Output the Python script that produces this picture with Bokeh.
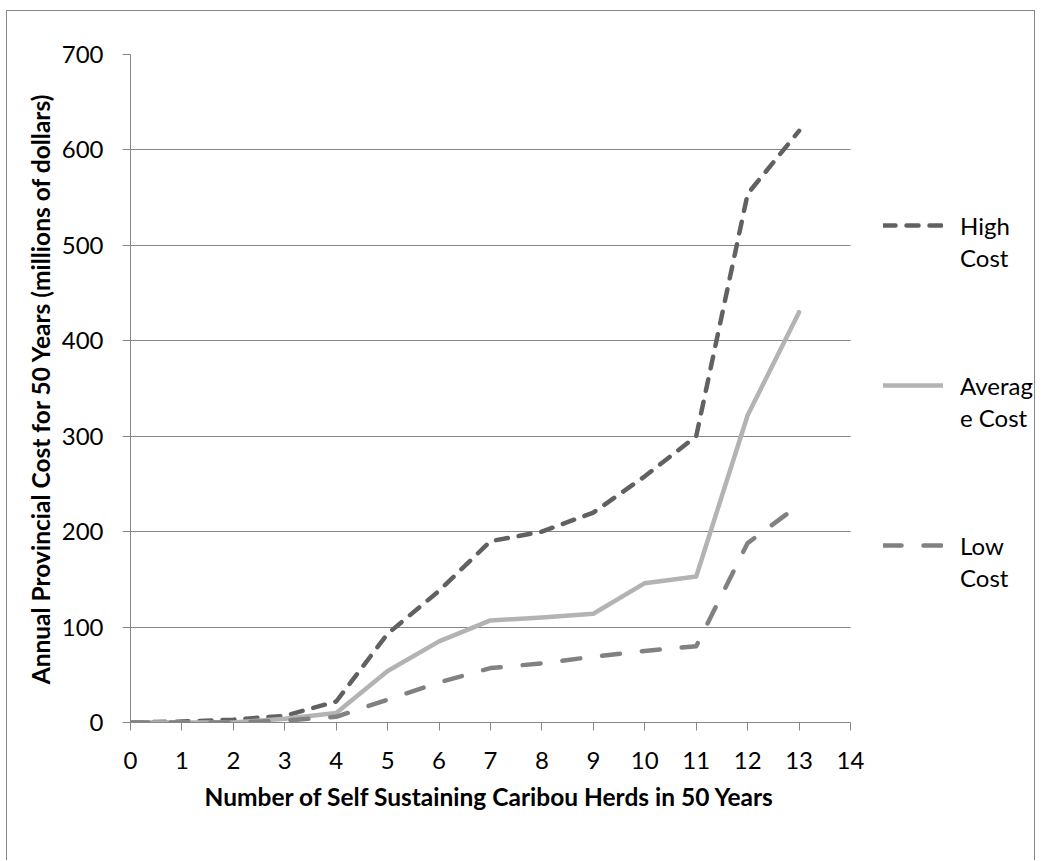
from bokeh.plotting import figure
from bokeh.models import Range1d, FixedTicker, Legend, LegendItem, Title
from bokeh.embed import file_html
from bokeh.resources import INLINE

# ---- data ----
herds = [0, 1, 2, 3, 4, 5, 6, 7, 8, 9, 10, 11, 12, 13]
high_cost = [0, 1, 3, 7, 22, 93, 138, 190, 200, 220, 258, 300, 554, 620]
average_cost = [0, 0, 0, 4, 10, 54, 85, 107, 110, 114, 146, 153, 322, 430]
low_cost = [0, 0, 0, 2, 6, 24, 42, 57, 62, 69, 75, 80, 188, 228]
x_ticks = list(range(0, 15))
y_ticks = [0, 100, 200, 300, 400, 500, 600, 700]
series_names = [("High", "Cost"), ("Averag", "e Cost"), ("Low", "Cost")]
x_title = "Number of Self Sustaining Caribou Herds in 50 Years"
y_title = "Annual Provincial Cost for 50 Years (millions of dollars)"

FONT = "Lato"
FS = "24px"
FS_TITLE = "24.5px"
GRID = "#868686"

# plot area: axis runs 0..14 over 720 px; the frame continues to the right edge so
# the legend (drawn inside the frame) is not clipped
X_MAX = 14
PLOT_W = 720
FRAME_W = 906
x_end = X_MAX * FRAME_W / PLOT_W

p = figure(width=1029, height=850, output_backend="svg", toolbar_location=None,
           x_range=Range1d(0, x_end), y_range=Range1d(0, 700),
           min_border_left=123, min_border_right=0, min_border_top=43, min_border_bottom=139)
p.margin = (10, 0, 0, 6)
p.styles = {"border-top": "1px solid #868686", "border-left": "1px solid #868686",
            "border-right": "1px solid #868686"}
p.outline_line_color = None
p.background_fill_color = "white"
p.border_fill_color = "white"

p.xgrid.visible = False
g = p.ygrid[0]
if "cross_bounds" in g.properties():
    g.grid_line_color = GRID
    g.grid_line_width = 1
    g.cross_bounds = (0, X_MAX)
else:
    g.visible = False
    p.segment(x0=[0] * len(y_ticks), x1=[X_MAX] * len(y_ticks), y0=y_ticks, y1=y_ticks,
              line_color=GRID, line_width=1, level="underlay")

p.xaxis.ticker = FixedTicker(ticks=x_ticks)
p.yaxis.ticker = FixedTicker(ticks=y_ticks)
p.xaxis.bounds = (0, X_MAX)
for ax in (p.xaxis, p.yaxis):
    ax.axis_line_color = GRID
    ax.axis_line_width = 1
    ax.major_tick_line_color = GRID
    ax.major_tick_out = 8
    ax.major_tick_in = 0
    ax.minor_tick_line_color = None
    ax.major_label_text_font = FONT
    ax.major_label_text_font_size = FS
    ax.major_label_text_color = "black"
    ax.axis_label_text_font = FONT
    ax.axis_label_text_font_size = FS_TITLE
    ax.axis_label_text_font_style = "bold"
    ax.axis_label_text_color = "black"

p.yaxis.axis_label = y_title
p.xaxis.major_label_standoff = 21
p.yaxis.major_label_standoff = 19
p.yaxis.axis_label_standoff = 4

# x-axis title centred under the 0..14 axis (not under the wider frame)
p.add_layout(Title(text=x_title, align="left", offset=74, standoff=17,
                   text_font=FONT, text_font_size=FS_TITLE, text_font_style="bold",
                   text_color="black"), "below")

r_high = p.line(herds, high_cost, line_color="#616161", line_width=4.5, line_dash="12 11",
                line_cap="round", line_join="round")
r_avg = p.line(herds, average_cost, line_color="#b3b3b3", line_width=4.5,
               line_cap="round", line_join="round")
r_low = p.line(herds, low_cost, line_color="#818181", line_width=4.5, line_dash="18 22",
               line_cap="round", line_join="round")
r_blank = p.line([], [], line_alpha=0)

# legend rows: the wrapped second line of each label sits in its own row
rows = [(series_names[0][0], r_high), (series_names[0][1], r_blank),
        (" ", r_blank), (" ", r_blank), (" ", r_blank),
        (series_names[1][0], r_avg), (series_names[1][1], r_blank),
        (" ", r_blank), (" ", r_blank), (" ", r_blank),
        (series_names[2][0], r_low), (series_names[2][1], r_blank)]
legend = Legend(items=[LegendItem(label=t, renderers=[r]) for t, r in rows],
                location=(753, 129), orientation="vertical",
                glyph_width=60, glyph_height=20, label_height=32, spacing=0,
                label_standoff=17, padding=0, margin=0,
                border_line_alpha=0, background_fill_alpha=0,
                label_text_font=FONT, label_text_font_size=FS, label_text_color="black")
p.add_layout(legend)

open("out.html", "w").write(file_html(p, INLINE))
